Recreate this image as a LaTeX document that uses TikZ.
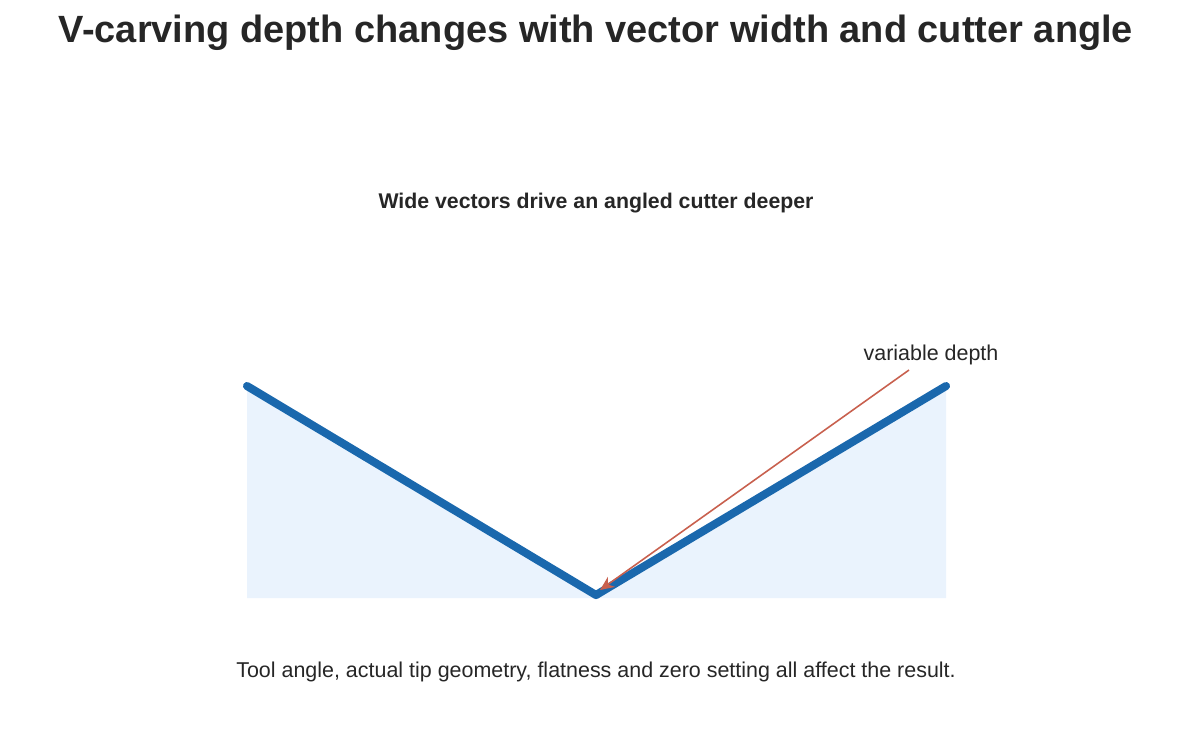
\documentclass[tikz,border=0pt]{standalone}
\usepackage{fontspec}
\setmainfont{Liberation Sans}
\usepackage{tikz}
\usetikzlibrary{arrows.meta}
\definecolor{cutblue}{HTML}{1A68AD}
\definecolor{cutfill}{HTML}{EAF3FD}
\definecolor{noteline}{HTML}{C8604E}
\definecolor{inktext}{HTML}{262626}

\begin{document}
\begin{tikzpicture}[x=0.01cm,y=-0.01cm,
            titletext/.style={font=\fontsize{10.8}{12}\selectfont\bfseries,text=inktext},
            subtext/.style={font=\fontsize{6.05}{7}\selectfont\bfseries,text=inktext},
            plaintext/.style={font=\fontsize{6.1}{7}\selectfont,text=inktext},
            groove/.style={draw=cutblue,line width=2.3pt,line cap=round,line join=round},
            pointer/.style={draw=noteline,line width=0.45pt,-{Stealth[length=4pt,width=3.5pt]}}]
            \useasboundingbox (0,0) rectangle (1192,741);
            \node[titletext] (title) at (596,33) {V-carving depth changes with vector width and cutter angle};
            \node[subtext] (sub) at (596,203) {Wide vectors drive an angled cutter deeper};
            % the carved groove
            \coordinate (lefttop) at (247,386);
            \coordinate (tip) at (596,595);
            \coordinate (righttop) at (946,386);
            \fill[cutfill] (lefttop) -- (tip) -- (righttop) -- (946,598) -- (247,598) -- cycle;
            \draw[groove] (lefttop) -- (tip) -- (righttop);
            \node[plaintext] (depth) at (931,355) {variable depth};
            \coordinate (tail) at (909,370);
            \coordinate (head) at (600,590);
            \draw[pointer] (tail) -- (head);
            \node[plaintext] (note) at (596,672) {Tool angle, actual tip geometry, flatness and zero setting all affect the result.};
\end{tikzpicture}
\end{document}
